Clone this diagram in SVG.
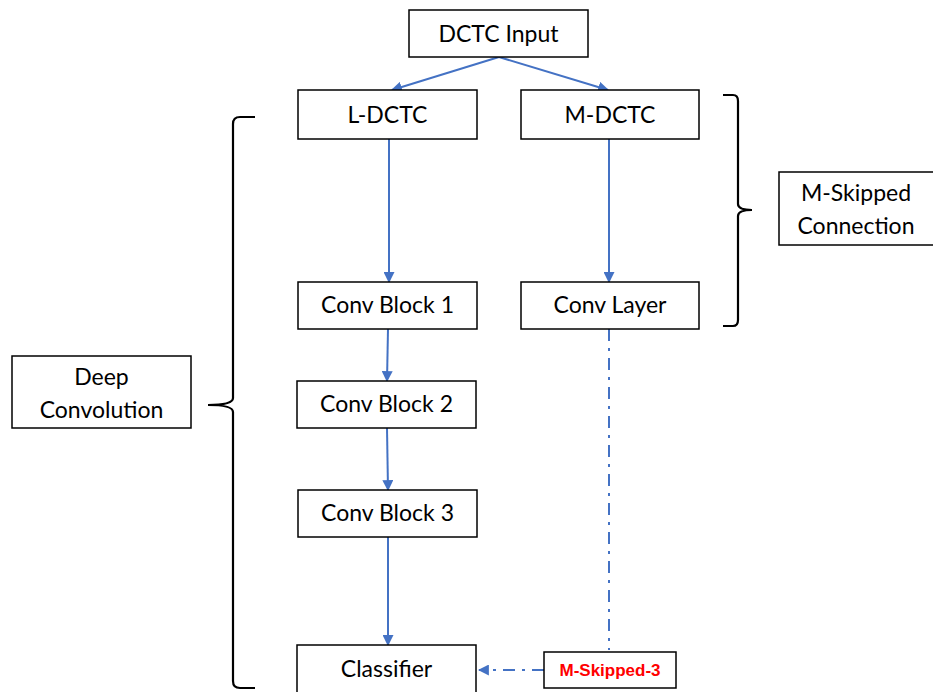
<svg xmlns="http://www.w3.org/2000/svg" width="933" height="692" viewBox="0 0 933 692">
  <style>
    .box { fill: #ffffff; stroke: #000000; stroke-width: 1.5; }
    .lbl { font-family: Lato, "Liberation Sans", sans-serif; font-size: 23px; fill: #000000; text-anchor: middle; }
    .red { font-family: "Liberation Sans", Arial, sans-serif; font-size: 17px; font-weight: bold; fill: #ff0000; text-anchor: middle; }
    .link { fill: none; stroke: #4472c4; stroke-width: 2; }
    .dashdot { stroke-dasharray: 12 7 3 7; }
    .brace { fill: none; stroke: #000000; stroke-width: 2.2; }
  </style>
  <defs>
    <marker id="arrow" viewBox="0 0 10 10" refX="9" refY="5" markerWidth="5.5" markerHeight="5.5" orient="auto" markerUnits="strokeWidth">
      <path d="M0,0 L10,5 L0,10 z" fill="#4472c4"/>
    </marker>
  </defs>
  <rect width="933" height="692" fill="#ffffff"/>

  <g id="connectors">
    <line class="link" x1="499" y1="57" x2="392" y2="90" marker-end="url(#arrow)"/>
    <line class="link" x1="499" y1="57" x2="608" y2="90" marker-end="url(#arrow)"/>
    <line class="link" x1="389" y1="139" x2="389" y2="282" marker-end="url(#arrow)"/>
    <line class="link" x1="609" y1="139" x2="609" y2="282" marker-end="url(#arrow)"/>
    <line class="link" x1="388" y1="329" x2="387" y2="381" marker-end="url(#arrow)"/>
    <line class="link" x1="387" y1="428" x2="388" y2="490" marker-end="url(#arrow)"/>
    <line class="link" x1="388" y1="537" x2="388" y2="645" marker-end="url(#arrow)"/>
    <line class="link dashdot" x1="609" y1="329" x2="609" y2="650"/>
    <line class="link dashdot" x1="544" y1="670" x2="479" y2="670" marker-end="url(#arrow)"/>
  </g>

  <g id="dctc-input">
    <rect class="box" x="409" y="10" width="179" height="47"/>
    <text class="lbl" x="498.5" y="42">DCTC Input</text>
  </g>
  <g id="l-dctc">
    <rect class="box" x="298" y="90" width="179" height="49"/>
    <text class="lbl" x="387.5" y="123">L-DCTC</text>
  </g>
  <g id="m-dctc">
    <rect class="box" x="521" y="90" width="178" height="49"/>
    <text class="lbl" x="610" y="123">M-DCTC</text>
  </g>
  <g id="conv-block-1">
    <rect class="box" x="298" y="282" width="179" height="47"/>
    <text class="lbl" x="387.5" y="313">Conv Block 1</text>
  </g>
  <g id="conv-layer">
    <rect class="box" x="521" y="282" width="178" height="47"/>
    <text class="lbl" x="610" y="313">Conv Layer</text>
  </g>
  <g id="conv-block-2">
    <rect class="box" x="297" y="381" width="179" height="47"/>
    <text class="lbl" x="386.5" y="412">Conv Block 2</text>
  </g>
  <g id="conv-block-3">
    <rect class="box" x="298" y="490" width="179" height="47"/>
    <text class="lbl" x="387.5" y="521">Conv Block 3</text>
  </g>
  <g id="classifier">
    <rect class="box" x="297" y="645" width="179" height="50"/>
    <text class="lbl" x="386.5" y="677">Classifier</text>
  </g>
  <g id="m-skipped-3">
    <rect class="box" x="544" y="652" width="132" height="36"/>
    <text class="red" x="610" y="676">M-Skipped-3</text>
  </g>
  <g id="deep-convolution">
    <rect class="box" x="12" y="356" width="179" height="72"/>
    <text class="lbl" x="101.5" y="385">Deep</text>
    <text class="lbl" x="101.5" y="418">Convolution</text>
  </g>
  <g id="m-skipped-connection">
    <rect class="box" x="779" y="172" width="160" height="73"/>
    <text class="lbl" x="856" y="201">M-Skipped</text>
    <text class="lbl" x="856" y="234">Connection</text>
  </g>

  <g id="braces">
    <path class="brace" d="M255,117 L240,117 Q233,117 233,124 L233,398 Q233,405 208,405 Q233,405 233,412 L233,681 Q233,688 240,688 L255,688"/>
    <path class="brace" d="M723,95 L733,95 Q738,95 738,101 L738,204 Q738,210 752,210 Q738,210 738,216 L738,320 Q738,326 733,326 L723,326"/>
  </g>
</svg>
